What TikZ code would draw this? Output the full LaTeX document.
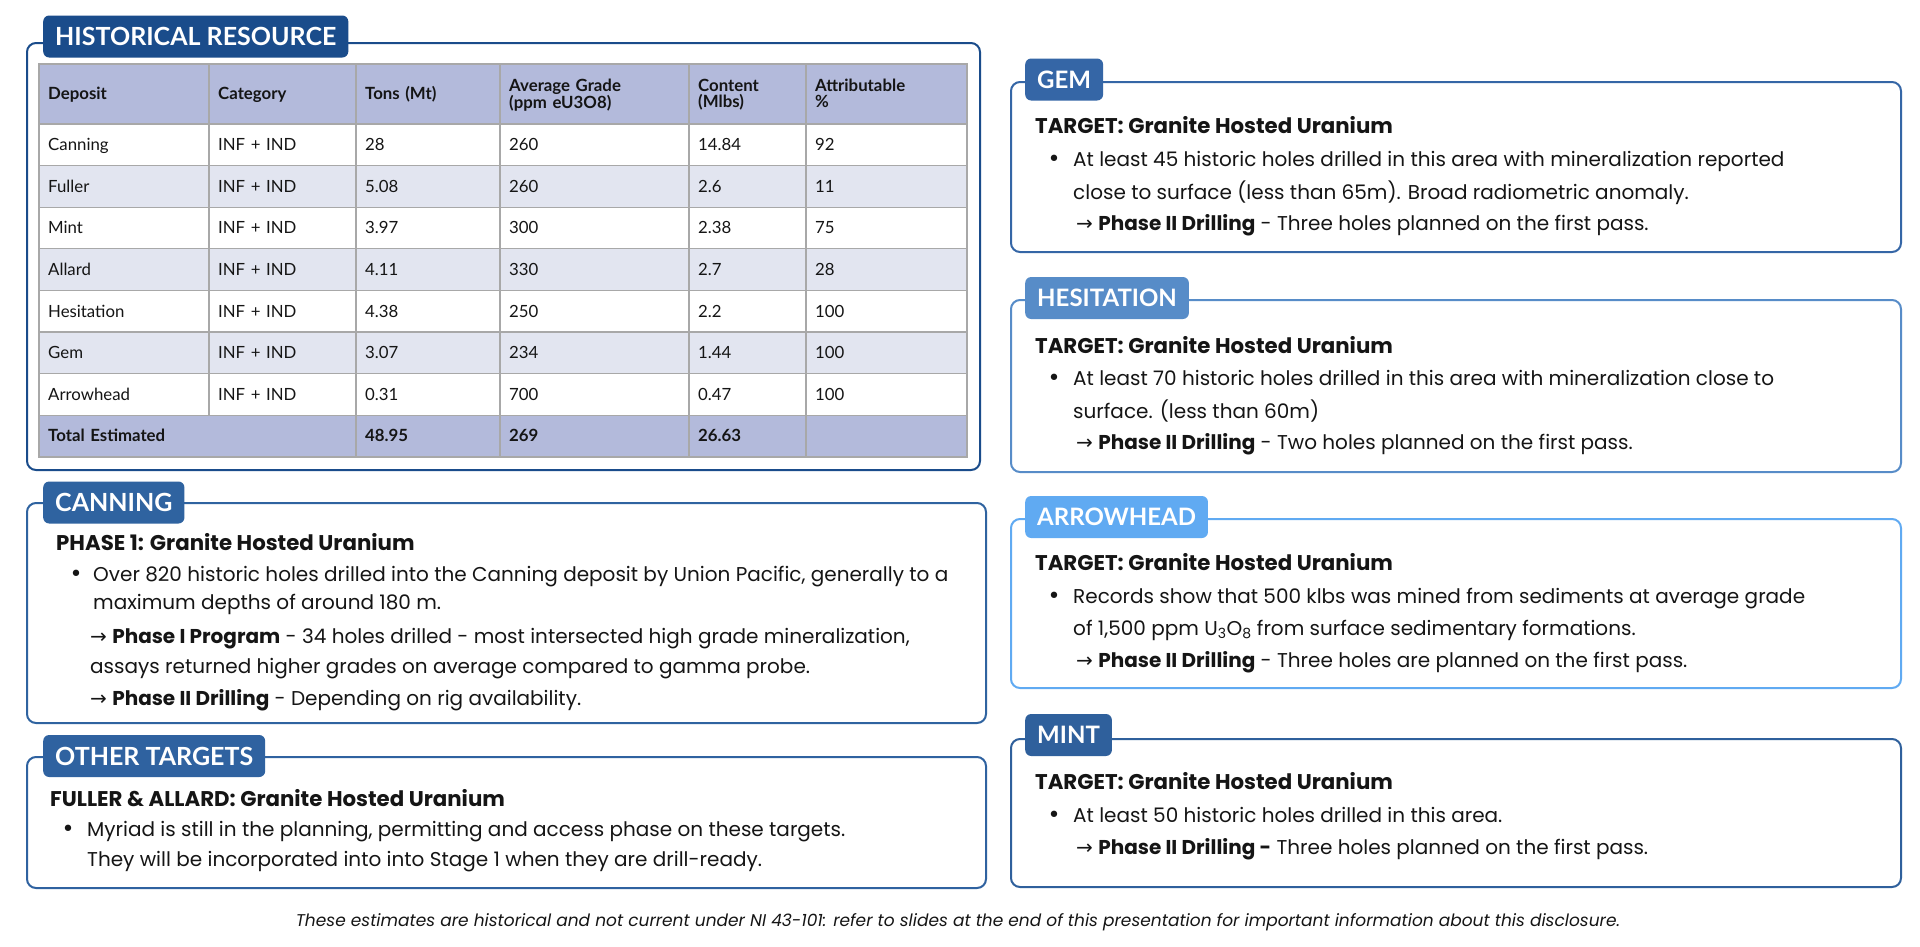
\documentclass[tikz,border=0pt]{standalone}
\usepackage{fontspec}
\setmainfont{Poppins}
\newfontfamily\latofont{Lato}
\newfontfamily\arwfont{DejaVu Sans}
\definecolor{ink}{HTML}{151515}
\definecolor{histc}{HTML}{1A4C8B}
\definecolor{canc}{HTML}{2F63A0}
\definecolor{otherc}{HTML}{2F62A0}
\definecolor{gemc}{HTML}{3566A6}
\definecolor{hesc}{HTML}{578CC8}
\definecolor{arrc}{HTML}{60AAF2}
\definecolor{mintc}{HTML}{2F609C}
\definecolor{hdrc}{HTML}{B3BADB}
\definecolor{rowc}{HTML}{E2E5F0}
\definecolor{gridc}{HTML}{A8A8A8}
\tikzset{node distance=33pt, auto}
\tikzset{
  panel/.style={draw=#1, line width=2pt, rounded corners=9pt, fill=white},
  tab/.style={fill=#1, text=white, rounded corners=6pt, anchor=west, inner xsep=12pt, inner ysep=0pt, minimum height=42pt, font=\latofont\bfseries\fontsize{24}{24}\selectfont},
  bigtab/.style={tab=#1, font=\latofont\bfseries\fontsize{25}{25}\selectfont},
  headtxt/.style={anchor=base west, inner sep=0pt, text=ink, font=\bfseries\fontsize{21.3}{25}\selectfont},
  bodytxt/.style={anchor=base west, inner sep=0pt, text=ink, font=\fontsize{20}{24}\selectfont},
  dottxt/.style={anchor=base, inner sep=0pt, text=ink, font=\arwfont\fontsize{22}{24}\selectfont},
  cellcol/.style={anchor=base west, inner sep=0pt, text=ink, text width=150pt, align=left, font=\latofont\fontsize{16.8}{41.6}\selectfont},
  hdrcol/.style={cellcol, font=\latofont\bfseries\fontsize{16.8}{15.5}\selectfont},
}
\newcommand{\arw}{{\arwfont →}}

\begin{document}
\begin{tikzpicture}[x=1pt, y=-1pt]

  \fill[white] (0,0) rectangle (1920,946);
  \useasboundingbox (0,0) rectangle (1920,946);

  \draw[panel=histc]  (27,43) rectangle (980,470);
  \draw[panel=canc]   (27,503) rectangle (986,723);
  \draw[panel=otherc] (27,757) rectangle (986,888);
  \draw[panel=gemc]   (1011,82) rectangle (1901,252);
  \draw[panel=hesc]   (1011,300) rectangle (1901,472);
  \draw[panel=arrc]   (1011,519) rectangle (1901,688);
  \draw[panel=mintc]  (1011,739) rectangle (1901,887);

  \node[bigtab=histc]  (histTab) at (43,36.5) {HISTORICAL RESOURCE};
  \node[bigtab=canc]   (canTab)  at (43,502.5) {CANNING};
  \node[bigtab=otherc] (othTab)  at (43,756) {OTHER TARGETS};
  \node[tab=gemc]   (gemTab)  at (1025,79.5) {GEM};
  \node[tab=hesc]   (hesTab)  at (1025,298) {HESITATION};
  \node[tab=arrc]   (arrTab)  at (1025,517) {ARROWHEAD};
  \node[tab=mintc]  (mintTab) at (1025,735) {MINT};

  \fill[hdrc] (39,64) rectangle (967,124);
  \fill[rowc] (39,165.6) rectangle (967,207.2);
  \fill[rowc] (39,248.8) rectangle (967,290.4);
  \fill[rowc] (39,332) rectangle (967,373.6);
  \fill[hdrc] (39,415.2) rectangle (967,457);
  \draw[gridc, line width=1.3pt]
    (39,124) -- (967,124) (39,165.6) -- (967,165.6) (39,207.2) -- (967,207.2)
    (39,248.8) -- (967,248.8) (39,290.4) -- (967,290.4) (39,332) -- (967,332)
    (39,373.6) -- (967,373.6) (39,415.2) -- (967,415.2)
    (209,64) -- (209,415.2) (356,64) -- (356,457) (500,64) -- (500,457)
    (689,64) -- (689,457) (806,64) -- (806,457)
    (39,64) rectangle (967,457);

  \node[hdrcol] (hDep) at (48,99.8) {Deposit};
  \node[hdrcol] (hCat) at (218,99.8) {Category};
  \node[hdrcol] (hTon) at (365,99.8) {Tons (Mt)};
  \node[hdrcol] (hGra) at (509,91.5) {Average Grade\\(ppm eU3O8)};
  \node[hdrcol] (hCon) at (698,91.5) {Content\\(Mlbs)};
  \node[hdrcol] (hAtt) at (815,91.5) {Attributable\\\%};

  \node[cellcol] (cDep) at (48,150.6) {Canning\\Fuller\\Mint\\Allard\\Hesitation\\Gem\\Arrowhead};
  \node[cellcol] (cCat) at (218,150.6) {INF + IND\\INF + IND\\INF + IND\\INF + IND\\INF + IND\\INF + IND\\INF + IND};
  \node[cellcol] (cTon) at (365,150.6) {28\\5.08\\3.97\\4.11\\4.38\\3.07\\0.31};
  \node[cellcol] (cGra) at (509,150.6) {260\\260\\300\\330\\250\\234\\700};
  \node[cellcol] (cCon) at (698,150.6) {14.84\\2.6\\2.38\\2.7\\2.2\\1.44\\0.47};
  \node[cellcol] (cAtt) at (815,150.6) {92\\11\\75\\28\\100\\100\\100};

  \node[hdrcol] (tDep) at (48,441.8) {Total Estimated};
  \node[hdrcol] (tTon) at (365,441.8) {48.95};
  \node[hdrcol] (tGra) at (509,441.8) {269};
  \node[hdrcol] (tCon) at (698,441.8) {26.63};

  \node[headtxt] (canHead) at (56,550) {PHASE 1: Granite Hosted Uranium};
  \node[bodytxt] (canL1) at (93,581) {Over 820 historic holes drilled into the Canning deposit by Union Pacific, generally to a};
  \node[dottxt] (canDot) at ([xshift=-17pt]canL1.base west) {•};
  \node[bodytxt] (canL2) at ([yshift=-28pt]canL1.base west) {maximum depths of around 180 m.};
  \node[bodytxt] (canL3) at ([xshift=-3pt,yshift=-62pt]canL1.base west) {\arw\ \textbf{Phase I Program} - 34 holes drilled - most intersected high grade mineralization,};
  \node[bodytxt] (canL4) at ([yshift=-30pt]canL3.base west) {assays returned higher grades on average compared to gamma probe.};
  \node[bodytxt] (canL5) at ([yshift=-32pt]canL4.base west) {\arw\ \textbf{Phase II Drilling} - Depending on rig availability.};

  \node[headtxt] (othHead) at (50,806) {FULLER \& ALLARD: Granite Hosted Uranium};
  \node[bodytxt] (othL1) at (87,836) {Myriad is still in the planning, permitting and access phase on these targets.};
  \node[dottxt] (othDot) at ([xshift=-19pt]othL1.base west) {•};
  \node[bodytxt] (othL2) at ([yshift=-30pt]othL1.base west) {They will be incorporated into into Stage 1 when they are drill-ready.};

  \node[headtxt] (gemHead) at (1035,133.5) {TARGET: Granite Hosted Uranium};
  \node[bodytxt] (gemL1) at (1073,166.5) {At least 45 historic holes drilled in this area with mineralization reported};
  \node[dottxt] (gemDot) at ([xshift=-19pt]gemL1.base west) {•};
  \node[bodytxt] (gemL2) at ([yshift=-33pt]gemL1.base west) {close to surface (less than 65m). Broad radiometric anomaly.};
  \node[bodytxt] (gemL3) at ([xshift=3pt,yshift=-63.5pt]gemL1.base west) {\arw\ \textbf{Phase II Drilling} - Three holes planned on the first pass.};

  \node[headtxt] (hesHead) at (1035,353.5) {TARGET: Granite Hosted Uranium};
  \node[bodytxt] (hesL1) at (1073,385.5) {At least 70 historic holes drilled in this area with mineralization close to};
  \node[dottxt] (hesDot) at ([xshift=-19pt]hesL1.base west) {•};
  \node[bodytxt] (hesL2) at ([yshift=-33pt]hesL1.base west) {surface. (less than 60m)};
  \node[bodytxt] (hesL3) at ([xshift=3pt,yshift=-64pt]hesL1.base west) {\arw\ \textbf{Phase II Drilling} - Two holes planned on the first pass.};

  \node[headtxt] (arrHead) at (1035,570.5) {TARGET: Granite Hosted Uranium};
  \node[bodytxt] (arrL1) at (1073,603.5) {Records show that 500 klbs was mined from sediments at average grade};
  \node[dottxt] (arrDot) at ([xshift=-19pt]arrL1.base west) {•};
  \node[bodytxt] (arrL2) at ([yshift=-32pt]arrL1.base west) {of 1,500 ppm U\textsubscript{3}O\textsubscript{8} from surface sedimentary formations.};
  \node[bodytxt] (arrL3) at ([xshift=3pt,yshift=-64pt]arrL1.base west) {\arw\ \textbf{Phase II Drilling} - Three holes are planned on the first pass.};

  \node[headtxt] (mintHead) at (1035,789.5) {TARGET: Granite Hosted Uranium};
  \node[bodytxt] (mintL1) at (1073,822.5) {At least 50 historic holes drilled in this area.};
  \node[dottxt] (mintDot) at ([xshift=-19pt]mintL1.base west) {•};
  \node[bodytxt] (mintL2) at ([xshift=3pt,yshift=-32pt]mintL1.base west) {\arw\ \textbf{Phase II Drilling -} Three holes planned on the first pass.};

  \node[anchor=base, inner sep=0pt, text=ink, font=\itshape\fontsize{17}{20}\selectfont] (note) at (958,926) {These estimates are historical and not current under NI 43-101: refer to slides at the end of this presentation for important information about this disclosure.};

\end{tikzpicture}
\end{document}
